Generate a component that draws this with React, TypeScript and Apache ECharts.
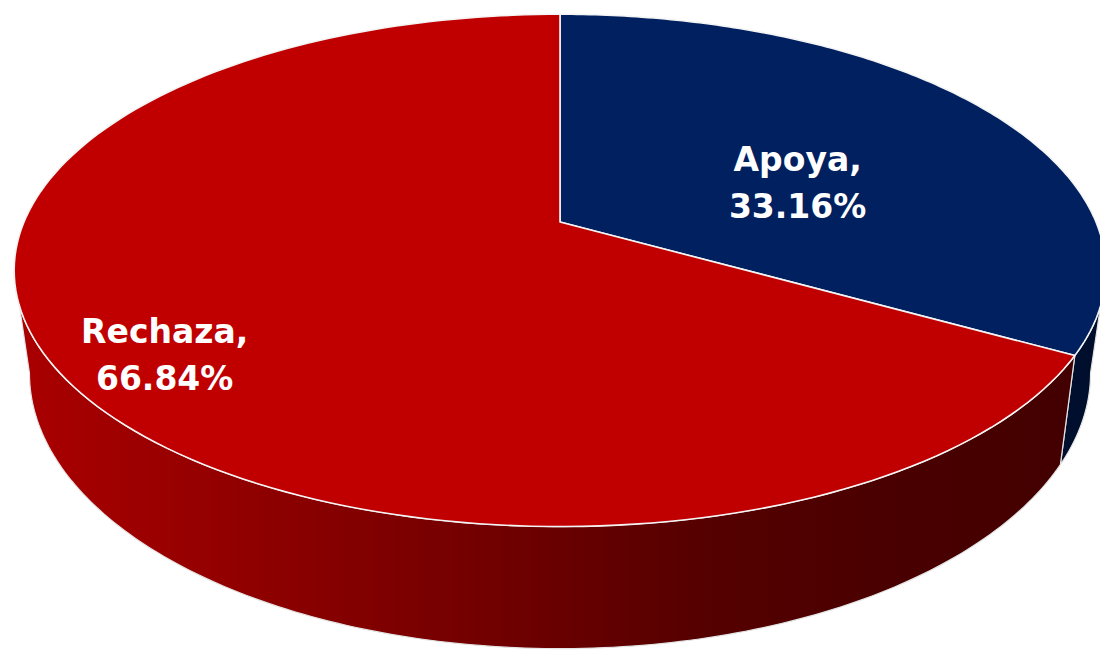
import React, { useEffect, useRef } from 'react';
import * as echarts from 'echarts';

// ---- data ----
const categories: string[] = ['Apoya', 'Rechaza'];
const values: number[] = [33.16, 66.84];

// ---- styling (not data) ----
const topColors = ['#002060', '#C00000'];
const wallStops = [
  [
    { offset: 0, color: '#0B2C70' },
    { offset: 0.6, color: '#061A48' },
    { offset: 1, color: '#000E2C' },
  ],
  [
    { offset: 0, color: '#AA0000' },
    { offset: 0.17, color: '#960000' },
    { offset: 0.45, color: '#700000' },
    { offset: 0.63, color: '#560000' },
    { offset: 0.8, color: '#4A0000' },
    { offset: 1, color: '#420000' },
  ],
];
const labelRadius = [0.54, 0.79];
const labelDy = [25, 26];

// projection parameters of the tilted disc
const CX = 560;
const CY = 222;
const A = 536;
const B = 247;
const K = 0.189;
const DEPTH = 99;
const SHRINK = 0.972;
const STEPS = 160;

function proj(theta: number, r: number): [number, number] {
  const u = r * Math.sin(theta);
  const v = -r * Math.cos(theta);
  const w = 1 - K * v;
  return [CX + (A * u) / w, CY + (B * v) / w];
}
function projBottom(theta: number): [number, number] {
  const v = -Math.cos(theta);
  const w = 1 - K * v;
  const p = proj(theta, 1);
  return [CX + (p[0] - CX) * SHRINK, p[1] + DEPTH / w];
}

const TH_MIN = Math.acos(-K);
const TH_MAX = 2 * Math.PI - Math.acos(-K);

export default function App() {
  const ref = useRef<HTMLDivElement>(null);
  useEffect(() => {
    if (!ref.current) return;
    const chart = echarts.init(ref.current, undefined, { renderer: 'svg' });
    const total = values.reduce((s, v) => s + v, 0);

    const renderItem = (params: any, api: any) => {
      const i = params.dataIndex;
      let before = 0;
      for (let j = 0; j < i; j++) before += values[j];
      const val = api.value(0);
      const a0 = (before / total) * Math.PI * 2;
      const a1 = ((before + val) / total) * Math.PI * 2;
      const children: any[] = [];

      // outer wall (visible part only)
      const t0 = Math.max(a0, TH_MIN);
      const t1 = Math.min(a1, TH_MAX);
      if (t1 > t0) {
        const pts: number[][] = [];
        for (let s = 0; s <= STEPS; s++) {
          const t = t0 + ((t1 - t0) * s) / STEPS;
          pts.push(proj(t, 1));
        }
        for (let s = STEPS; s >= 0; s--) {
          const t = t0 + ((t1 - t0) * s) / STEPS;
          pts.push(projBottom(t));
        }
        children.push({
          type: 'polygon',
          z2: 1,
          shape: { points: pts },
          style: {
            fill: {
              type: 'linear',
              x: 14,
              y: 0,
              x2: 1100,
              y2: 0,
              global: true,
              colorStops: wallStops[i],
            },
            stroke: '#e4e4e4',
            lineWidth: 1.2,
          },
        });
      }

      // top face
      const top: number[][] = [[CX, CY]];
      for (let s = 0; s <= STEPS; s++) {
        const t = a0 + ((a1 - a0) * s) / STEPS;
        top.push(proj(t, 1));
      }
      children.push({
        type: 'polygon',
        z2: 5,
        shape: { points: top },
        style: { fill: topColors[i], stroke: '#f4f4f4', lineWidth: 1.6, lineJoin: 'round' },
      });

      // label
      const mid = (a0 + a1) / 2;
      const lp = proj(mid, labelRadius[i]);
      children.push({
        type: 'text',
        z2: 10,
        x: lp[0],
        y: lp[1] + labelDy[i],
        style: {
          text: `${categories[i]},\n${val.toFixed(2)}%`,
          fill: '#ffffff',
          fontSize: 33,
          fontWeight: 'bold',
          fontFamily: '"DejaVu Sans", sans-serif',
          align: 'center',
          verticalAlign: 'middle',
          lineHeight: 47,
        },
      });

      return { type: 'group', children };
    };

    chart.setOption({
      animation: false,
      backgroundColor: '#ffffff',
      series: [
        {
          type: 'custom',
          coordinateSystem: 'none',
          renderItem,
          data: values.map((v, i) => ({ name: categories[i], value: [v] })),
        },
      ],
    });
    return () => chart.dispose();
  }, []);
  return (
    <div
      ref={ref}
      style={{ position: 'fixed', left: 0, top: 0, width: 1100, height: 652 }}
    />
  );
}
